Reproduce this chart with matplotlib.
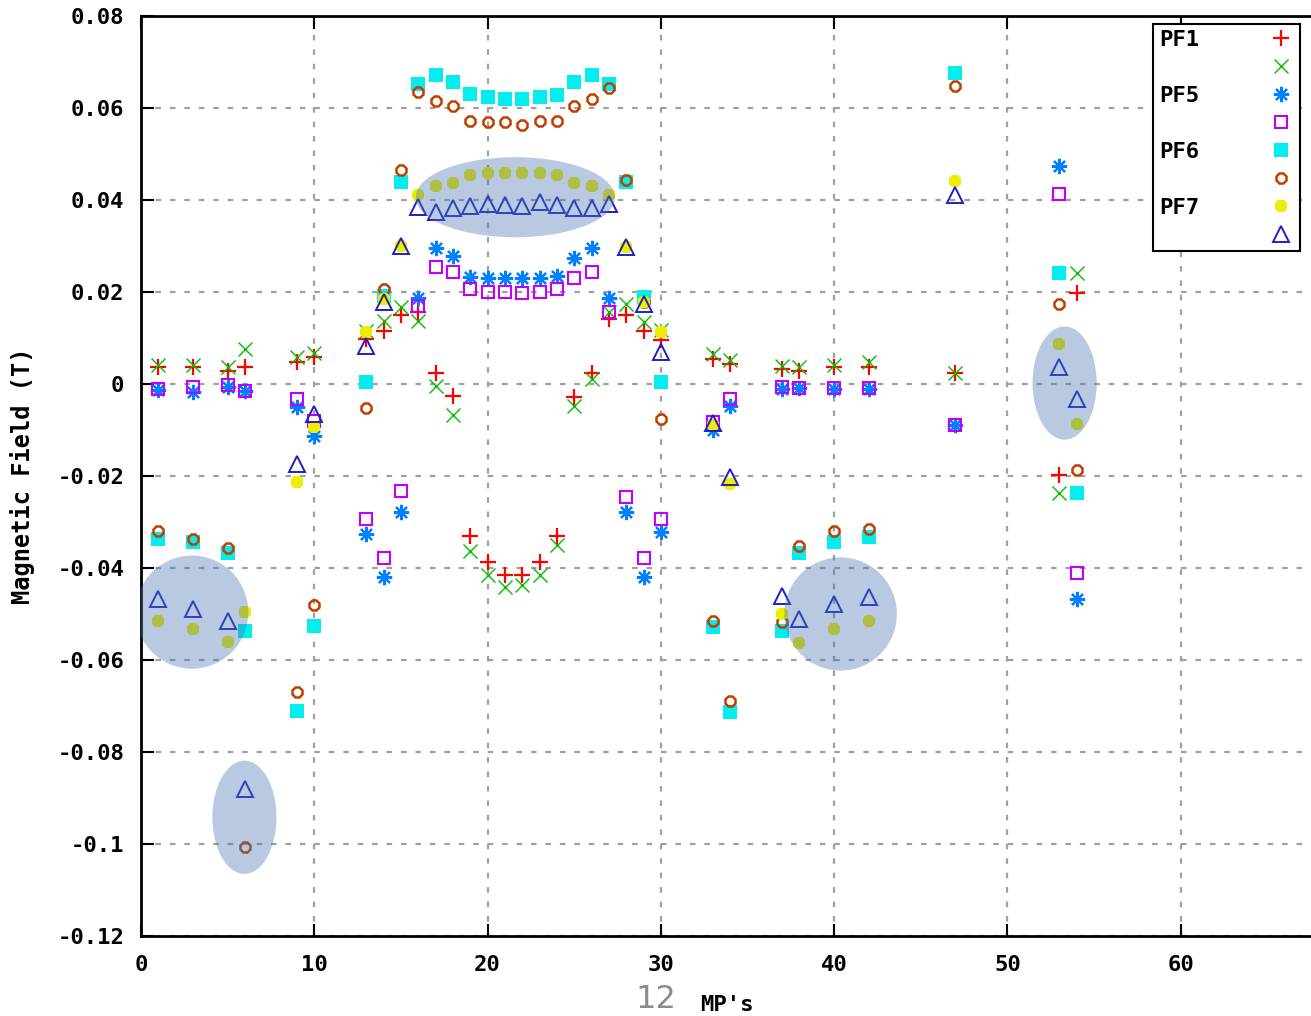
import matplotlib
matplotlib.use("Agg")
import matplotlib.pyplot as plt
from matplotlib.patches import Ellipse

# measurement points (x axis)
MP = [1, 3, 5, 6, 9, 10, 13, 14, 15, 16, 17, 18, 19, 20, 21, 22, 23, 24,
      25, 26, 27, 28, 29, 30, 33, 34, 37, 38, 40, 42, 47, 53, 54]

# magnetic field (T), two traces per coil
PF1_A = [0.0038, 0.0038, 0.0029, 0.0036, 0.0047, 0.0058, 0.0098, 0.0116, 0.0150,
         0.0156, 0.0025, -0.0025, -0.0330, -0.0386, -0.0415, -0.0415, -0.0386,
         -0.0331, -0.0029, 0.0025, 0.0141, 0.0149, 0.0116, 0.0095, 0.0054, 0.0043,
         0.0033, 0.0029, 0.0038, 0.0036, 0.0024, -0.0197, 0.0198]
PF1_B = [0.0042, 0.0042, 0.0036, 0.0076, 0.0058, 0.0067, 0.0115, 0.0137, 0.0168,
         0.0137, -0.0004, -0.0067, -0.0362, -0.0415, -0.0442, -0.0438, -0.0415,
         -0.0351, -0.0047, 0.0011, 0.0156, 0.0174, 0.0134, 0.0118, 0.0065, 0.0053,
         0.0040, 0.0036, 0.0042, 0.0047, 0.0024, -0.0238, 0.0242]
PF5_A = [-0.0013, -0.0017, -0.0007, -0.0015, -0.0051, -0.0112, -0.0326, -0.0420,
         -0.0279, 0.0188, 0.0295, 0.0278, 0.0232, 0.0230, 0.0230, 0.0230, 0.0230,
         0.0234, 0.0275, 0.0295, 0.0188, -0.0279, -0.0420, -0.0322, -0.0101,
         -0.0047, -0.0011, -0.0009, -0.0011, -0.0011, -0.0089, 0.0474, -0.0468]
PF5_B = [-0.0011, -0.0007, -0.0002, -0.0015, -0.0033, -0.0080, -0.0293, -0.0379,
         -0.0232, 0.0169, 0.0254, 0.0244, 0.0207, 0.0201, 0.0201, 0.0198, 0.0201,
         0.0207, 0.0230, 0.0243, 0.0156, -0.0246, -0.0379, -0.0293, -0.0083,
         -0.0033, -0.0007, -0.0009, -0.0009, -0.0009, -0.0089, 0.0412, -0.0410]
PF6_A = [-0.0337, -0.0344, -0.0367, -0.0536, -0.0710, -0.0527, 0.0004, 0.0192,
         0.0440, 0.0652, 0.0672, 0.0656, 0.0630, 0.0623, 0.0620, 0.0620, 0.0623,
         0.0628, 0.0656, 0.0672, 0.0652, 0.0440, 0.0190, 0.0005, -0.0529, -0.0713,
         -0.0536, -0.0367, -0.0344, -0.0333, 0.0676, 0.0242, -0.0238]
PF6_B = [-0.0319, -0.0336, -0.0357, -0.1007, -0.0669, -0.0480, -0.0053, 0.0207,
         0.0466, 0.0634, 0.0616, 0.0605, 0.0572, 0.0569, 0.0569, 0.0563, 0.0572,
         0.0572, 0.0605, 0.0620, 0.0643, 0.0444, 0.0178, -0.0076, -0.0515, -0.0690,
         -0.0518, -0.0353, -0.0319, -0.0315, 0.0648, 0.0175, -0.0187]
PF7_A = [-0.0515, -0.0533, -0.0560, -0.0496, -0.0214, -0.0094, 0.0112, 0.0185,
         0.0300, 0.0411, 0.0430, 0.0438, 0.0454, 0.0459, 0.0459, 0.0459, 0.0459,
         0.0454, 0.0438, 0.0430, 0.0411, 0.0297, 0.0178, 0.0112, -0.0090, -0.0217,
         -0.0500, -0.0562, -0.0533, -0.0515, 0.0441, 0.0088, -0.0088]
PF7_B = [-0.0467, -0.0490, -0.0515, -0.0880, -0.0174, -0.0065, 0.0083, 0.0178,
         0.0300, 0.0384, 0.0375, 0.0382, 0.0388, 0.0391, 0.0389, 0.0388, 0.0396,
         0.0389, 0.0382, 0.0382, 0.0391, 0.0297, 0.0175, 0.0069, -0.0085, -0.0203,
         -0.0460, -0.0511, -0.0478, -0.0464, 0.0410, 0.0036, -0.0032]

LABELS = ["PF1", "", "PF5", "", "PF6", "", "PF7", ""]
Y_TICKS = [-0.12, -0.1, -0.08, -0.06, -0.04, -0.02, 0, 0.02, 0.04, 0.06, 0.08]
Y_TICKLABELS = ["-0.12", "-0.1", "-0.08", "-0.06", "-0.04", "-0.02", "0",
                "0.02", "0.04", "0.06", "0.08"]
X_TICKS = [0, 10, 20, 30, 40, 50, 60]

# highlighted regions: (x centre, y centre, width, height)
HIGHLIGHTS = [(21.6, 0.0406, 11.5, 0.0174),
              (2.94, -0.0496, 6.5, 0.0246),
              (5.97, -0.0942, 3.7, 0.0246),
              (40.37, -0.0500, 6.5, 0.0246),
              (53.3, 0.0002, 3.7, 0.0246)]

MONO = {"family": "DejaVu Sans Mono", "weight": "bold"}

fig = plt.figure(figsize=(13.11, 10.16), dpi=100)
# axes runs a bit past the right edge of the picture (x up to 70)
ax = fig.add_axes([141 / 1311, 80 / 1016, 1213 / 1311, 920 / 1016])

styles = [
    dict(marker="+", color="#ff0000", ms=11, mew=1.6, ls="none"),
    dict(marker="x", color="#00c000", ms=10.5, mew=1.0, ls="none"),
    dict(marker=(8, 2, 0), color="#0080ff", ms=11, mew=1.6, ls="none"),
    dict(marker="s", color="#c000ff", mfc="none", ms=9, mew=1.5, ls="none"),
    dict(marker="s", color="#00eeee", ms=10.5, mew=0, ls="none"),
    dict(marker="8", color="#c04000", mfc="none", ms=8.5, mew=1.8, ls="none"),
    dict(marker="8", color="#eeee00", ms=9.5, mew=0, ls="none"),
    dict(marker="^", color="#2020c0", mfc="none", ms=11.5, mew=1.4, ls="none"),
]
series = [PF1_A, PF1_B, PF5_A, PF5_B, PF6_A, PF6_B, PF7_A, PF7_B]

handles = []
for vals, st in zip(series, styles):
    h, = ax.plot(MP, vals, zorder=3, **st)
    handles.append(h)

for cx, cy, w, hgt in HIGHLIGHTS:
    ax.add_patch(Ellipse((cx, cy), w, hgt, facecolor="#4975b4", alpha=0.39,
                         edgecolor="none", zorder=5))

ax.set_xlim(0, 70)
ax.set_ylim(-0.12, 0.08)
ax.set_xticks(X_TICKS)
ax.set_xticklabels([str(t) for t in X_TICKS], fontdict=MONO, fontsize=16)
ax.set_yticks(Y_TICKS)
ax.set_yticklabels(Y_TICKLABELS, fontdict=MONO, fontsize=16)
ax.tick_params(direction="in", length=9, width=1.5, top=True, right=True)
ax.tick_params(axis="y", pad=12)
ax.tick_params(axis="x", pad=14)

ax.grid(True, color="#a0a0a0", linestyle=(0, (2.5, 4)), linewidth=1.6)
for s in ax.spines.values():
    s.set_linewidth(2)
    s.set_color("black")

ax.set_ylabel("Magnetic Field (T)", fontdict=MONO, fontsize=17, labelpad=16)

fig.text(727 / 1311, 1 - 1005 / 1016, "MP's", ha="center", va="center",
         fontsize=16, **MONO)
fig.text(656 / 1311, 1 - 1000 / 1016, "12", ha="center", va="center",
         fontsize=23, color="#8c8c8c", family="DejaVu Sans")

leg = ax.legend(handles, LABELS, loc="upper right",
                bbox_to_anchor=((1300 - 141) / 1213, (936 - 24) / 920),
                borderaxespad=0, markerfirst=False, fancybox=False,
                framealpha=1, edgecolor="black", prop=dict(size=16, **MONO),
                labelspacing=0.36, handletextpad=3.1, handlelength=1.2,
                borderpad=0.25)
leg.get_frame().set_linewidth(1.5)
leg.set_zorder(10)

fig.savefig("out.png", dpi=100)
